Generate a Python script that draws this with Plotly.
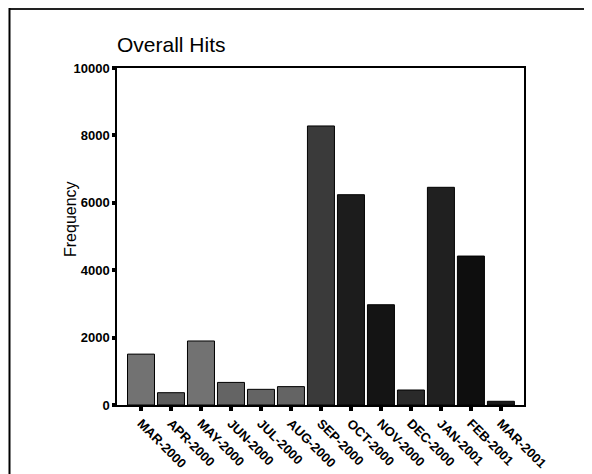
import plotly.graph_objects as go

months = ["MAR-2000", "APR-2000", "MAY-2000", "JUN-2000", "JUL-2000", "AUG-2000",
          "SEP-2000", "OCT-2000", "NOV-2000", "DEC-2000", "JAN-2001", "FEB-2001", "MAR-2001"]
hits = [1510, 365, 1900, 670, 465, 545, 8280, 6240, 2975, 445, 6460, 4420, 110]
bar_colors = ["#727272", "#5c5c5c", "#727272", "#646464", "#646464", "#646464",
              "#3a3a3a", "#1c1c1c", "#141414", "#2a2a2a", "#202020", "#0e0e0e", "#1a1a1a"]
y_ticks = [0, 2000, 4000, 6000, 8000, 10000]

# page has an 8px body margin; figure geometry is in figure coordinates
W, H = 584, 466
L, R, T, B = 109, 68, 60, 69
PW, PH = W - L - R, H - T - B

def px(x):
    return (x - L) / PW

def py(y):
    return (H - B - y) / PH

FONT = "Liberation Sans, Arial, sans-serif"

fig = go.Figure(go.Bar(
    x=months, y=hits,
    marker=dict(color=bar_colors, line=dict(color="#000000", width=1)),
))

fig.update_layout(
    width=W, height=H,
    margin=dict(l=L, r=R, t=T, b=B, autoexpand=False),
    paper_bgcolor="white", plot_bgcolor="white",
    bargap=0.1,
    showlegend=False,
    font=dict(family=FONT, color="#000"),
    title=dict(text="Overall Hits", x=109 / W, xanchor="left", y=1 - 37 / H, yanchor="middle",
               font=dict(size=21, color="#000", family=FONT)),
    xaxis=dict(
        range=[-0.8, 12.77],
        showline=True, linecolor="#000", linewidth=1.5, mirror=True,
        ticks="outside", ticklen=4, tickwidth=4, tickcolor="#000",
        tickangle=45, automargin=False,
        tickfont=dict(size=13, family=FONT, weight="bold"),
        showgrid=False, zeroline=False,
    ),
    yaxis=dict(
        range=[0, 10000],
        tickvals=y_ticks, ticktext=[str(v) for v in y_ticks],
        showline=True, linecolor="#000", linewidth=1.5, mirror=True,
        ticks="outside", ticklen=3, tickwidth=4, tickcolor="#000",
        tickfont=dict(size=13, family=FONT, weight="bold"),
        automargin=False,
        showgrid=False, zeroline=False,
    ),
    annotations=[dict(text="Frequency", textangle=-90, xref="paper", yref="paper",
                      x=px(62), y=py(211), xanchor="center", yanchor="middle",
                      showarrow=False, font=dict(size=16, family=FONT, color="#000"))],
    shapes=[
        dict(type="line", xref="paper", yref="paper",
             x0=px(1.5), x1=px(W), y0=py(1), y1=py(1),
             line=dict(color="#222", width=2)),
        dict(type="line", xref="paper", yref="paper",
             x0=px(1.5), x1=px(1.5), y0=py(0), y1=py(H),
             line=dict(color="#000", width=2)),
    ],
)

fig.write_html("out.html")
